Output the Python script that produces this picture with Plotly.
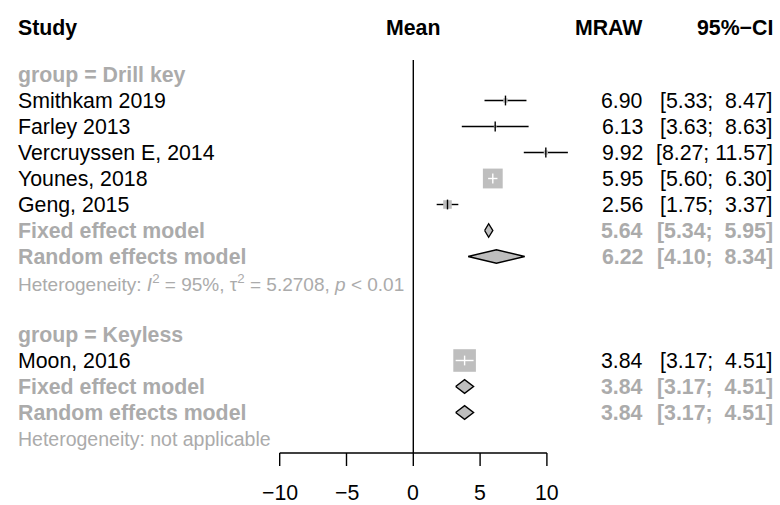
import plotly.graph_objects as go
import numpy as np

# ---------------- data ----------------
studies = ["Smithkam 2019", "Farley 2013", "Vercruyssen E, 2014", "Younes, 2018", "Geng, 2015", "Moon, 2016"]
study_group = ["Drill key", "Drill key", "Drill key", "Drill key", "Drill key", "Keyless"]
means = [6.90, 6.13, 9.92, 5.95, 2.56, 3.84]
lower = [5.33, 3.63, 8.27, 5.60, 1.75, 3.17]
upper = [8.47, 8.63, 11.57, 6.30, 3.37, 4.51]

group_names = ["Drill key", "Keyless"]
fixed_mean = [5.64, 3.84]
fixed_lower = [5.34, 3.17]
fixed_upper = [5.95, 4.51]
random_mean = [6.22, 3.84]
random_lower = [4.10, 3.17]
random_upper = [8.34, 4.51]
het_text = ["Heterogeneity: <i>I</i><sup>2</sup> = 95%, τ<sup>2</sup> = 5.2708, <i>p</i> &lt; 0.01",
            "Heterogeneity: not applicable"]

tick_vals = [-10, -5, 0, 5, 10]
tick_text = ["−10", "−5", "0", "5", "10"]

# ---------------- style ----------------
W, H = 780, 505
FONT = "Liberation Sans, Arial, sans-serif"
FS = 21.3
FS_HET = [19.0, 19.5]
GREY_TXT = "#ababab"
GREY_BOX = "#bebebe"
LW = 1.4
PX0, PXU = 413.3, 13.36          # pixel of x=0, pixels per unit
ROW0, ROWH = 74.5, 26.0           # pixel of row 0, pixels per row
MAXBOX = 22.6
TXT_SHIFT = 0.025                 # vertical text adjustment (rows)

def row_of_px(p):
    return (p - ROW0) / ROWH

fig = go.Figure()
ann = []

def text(x, r, s, anchor="left", color="black", size=FS, xref="paper"):
    ann.append(dict(x=x, y=r + TXT_SHIFT, xref=xref, yref="y", text=s, showarrow=False,
                    xanchor=anchor, yanchor="middle",
                    font=dict(family=FONT, size=size, color=color)))

def fmt_ci(lo, hi):
    lo_s = f"{lo:.2f}"
    hi_s = f"{hi:.2f}".rjust(5).replace(" ", "\u00a0")
    return f"[{lo_s}; {hi_s}]"

X_LEFT = 16 / W
X_VAL = 645 / W
X_CI = 775 / W

# headers
hdr = row_of_px(27)
text(X_LEFT, hdr, "<b>Study</b>")
text(0, hdr, "<b>Mean</b>", anchor="center", xref="x")
text(X_VAL, hdr, "<b>MRAW</b>", anchor="right")
text(X_CI, hdr, "<b>95%−CI</b>", anchor="right")

r = 0
for gi, g in enumerate(group_names):
    text(X_LEFT, r, f"<b>group = {g}</b>", color=GREY_TXT)
    r += 1
    idx = [i for i, sg in enumerate(study_group) if sg == g]
    w = np.array([1.0 / ((upper[i] - lower[i]) / 3.92) ** 2 for i in idx])
    wfrac = w / w.sum()
    for k, i in enumerate(idx):
        text(X_LEFT, r, studies[i])
        text(X_VAL, r, f"{means[i]:.2f}", anchor="right")
        text(X_CI, r, fmt_ci(lower[i], upper[i]), anchor="right")
        size = MAXBOX * np.sqrt(wfrac[k])
        inside = (upper[i] - lower[i]) * PXU < size
        fig.add_trace(go.Scatter(x=[lower[i], upper[i]], y=[r, r], mode="lines",
                                 line=dict(color="black", width=LW), hoverinfo="skip"))
        fig.add_trace(go.Scatter(x=[means[i]], y=[r], mode="markers",
                                 marker=dict(symbol="square", size=size, color=GREY_BOX,
                                             line=dict(width=0)), hoverinfo="skip"))
        c_in = "white" if inside else "black"
        if inside:
            fig.add_trace(go.Scatter(x=[lower[i], upper[i]], y=[r, r], mode="lines",
                                     line=dict(color="white", width=LW), hoverinfo="skip"))
        fig.add_trace(go.Scatter(x=[means[i]], y=[r], mode="markers",
                                 marker=dict(symbol="line-ns", size=7,
                                             line=dict(color=c_in, width=LW)), hoverinfo="skip"))
        r += 1
    for lab, m, lo, hi in [("Fixed effect model", fixed_mean[gi], fixed_lower[gi], fixed_upper[gi]),
                           ("Random effects model", random_mean[gi], random_lower[gi], random_upper[gi])]:
        text(X_LEFT, r, f"<b>{lab}</b>", color=GREY_TXT)
        text(X_VAL, r, f"<b>{m:.2f}</b>", anchor="right", color=GREY_TXT)
        text(X_CI, r, "<b>" + fmt_ci(lo, hi) + "</b>", anchor="right", color=GREY_TXT)
        h = 0.26
        fig.add_trace(go.Scatter(x=[lo, m, hi, m, lo], y=[r, r - h, r, r + h, r], mode="lines",
                                 fill="toself", fillcolor=GREY_BOX,
                                 line=dict(color="black", width=LW), hoverinfo="skip"))
        r += 1
    text(X_LEFT, r, het_text[gi], color=GREY_TXT, size=FS_HET[gi])
    r += 2

# axis
axis_row = row_of_px(453)
tick_end = row_of_px(466)
label_row = row_of_px(492)
fig.add_trace(go.Scatter(x=[0, 0], y=[row_of_px(60), axis_row], mode="lines",
                         line=dict(color="black", width=LW), hoverinfo="skip"))
fig.add_trace(go.Scatter(x=[tick_vals[0], tick_vals[-1]], y=[axis_row, axis_row], mode="lines",
                         line=dict(color="black", width=LW), hoverinfo="skip"))
tx, ty = [], []
for t in tick_vals:
    tx += [t, t, None]
    ty += [axis_row, tick_end, None]
fig.add_trace(go.Scatter(x=tx, y=ty, mode="lines", line=dict(color="black", width=LW),
                         hoverinfo="skip"))
for t, s in zip(tick_vals, tick_text):
    text(t, label_row, s, anchor="center", xref="x")

fig.update_layout(
    width=W, height=H, margin=dict(l=0, r=0, t=0, b=0),
    paper_bgcolor="white", plot_bgcolor="white", showlegend=False,
    xaxis=dict(range=[-PX0 / PXU, (W - PX0) / PXU], visible=False, fixedrange=True),
    yaxis=dict(range=[row_of_px(H), row_of_px(0)], visible=False, fixedrange=True),
    annotations=ann,
)
fig.write_html("out.html")
